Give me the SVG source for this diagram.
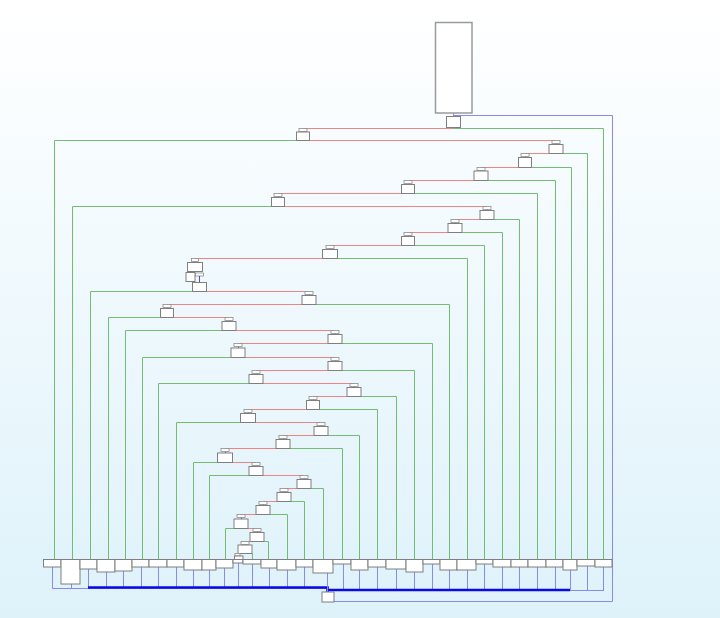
<svg xmlns="http://www.w3.org/2000/svg" width="720" height="618" viewBox="0 0 720 618">
<defs>
<linearGradient id="bg" x1="0" y1="0" x2="0" y2="1">
<stop offset="0" stop-color="#ffffff"/>
<stop offset="1" stop-color="#def2fa"/>
</linearGradient>
<style>
.box{fill:#fff;stroke:#7f7f7f;stroke-width:1}
.big{fill:#fff;stroke:#9a9a9a;stroke-width:1.5}
.pin{fill:#fff;stroke:#8c8c8c;stroke-width:0.8}
.tick{fill:none;stroke:#4a4ae0;stroke-width:1}
.red{fill:none;stroke:#ec8585;stroke-width:1}
.grn{fill:none;stroke:#74bb74;stroke-width:1}
.blu{fill:none;stroke:#8a8aee;stroke-width:1}
.thk{fill:none;stroke:#0a0ae6;stroke-width:2.6}
</style>
</defs>
<rect x="0" y="0" width="720" height="618" fill="url(#bg)"/>
<g id="connectors">
<path class="blu" d="M453.5,113 V116 M453.5,115.5 H612.5 V601.5 H334"/>
<path class="grn" d="M453,128.5 H603.5 V559 M303,140.5 H54.5 V559 M556,153.5 H587.5 V559 M525,167.5 H571.5 V559 M481,180.5 H555.5 V559 M408,193.5 H537.5 V559 M278,206.5 H72.5 V559 M487,219.5 H519.5 V559 M455,232.5 H502.5 V559 M408,245.5 H484.5 V559 M330,258.5 H467.5 V559 M199,291.5 H90.5 V559 M309,304.5 H449.5 V559 M167,317.5 H108.5 V559 M229,330.5 H125.5 V559 M335,343.5 H432.5 V559 M238,357.5 H142.5 V559 M335,370.5 H414.5 V559 M256,383.5 H158.5 V559 M354,396.5 H396.5 V559 M313,409.5 H377.5 V559 M248,422.5 H176.5 V559 M321,435.5 H359.5 V559 M283,448.5 H342.5 V559 M225,462.5 H193.5 V559 M256,475.5 H209.5 V559 M304,488.5 H323.5 V559 M284,501.5 H304.5 V559 M263,514.5 H287.5 V559 M241,528.5 H225.5 V559 M257,541.5 H268.5 V559 M245,553.5 H252.5 V559"/>
<path class="red" d="M453,128.5 H303 M303,140.5 H556 M556,153.5 H525 M525,167.5 H481 M481,180.5 H408 M408,193.5 H278 M278,206.5 H487 M487,219.5 H455 M455,232.5 H408 M408,245.5 H330 M330,258.5 H195 M199,291.5 H309 M309,304.5 H167 M167,317.5 H229 M229,330.5 H335 M335,343.5 H238 M238,357.5 H335 M335,370.5 H256 M256,383.5 H354 M354,396.5 H313 M313,409.5 H248 M248,422.5 H321 M321,435.5 H283 M283,448.5 H225 M225,462.5 H256 M256,475.5 H304 M304,488.5 H284 M284,501.5 H263 M263,514.5 H241 M241,528.5 H257 M257,541.5 H245 M245,553.5 H238"/>
<path class="tick" d="M303.5,130.5 V133 M556.5,142.5 V145 M525.5,155.5 V158 M481.5,169.5 V172 M408.5,182.5 V185 M278.5,195.5 V198 M487.5,208.5 V211 M455.5,221.5 V224 M408.5,234.5 V237 M330.5,247.5 V250 M195.5,260.5 V263 M309.5,293.5 V296 M167.5,306.5 V309 M229.5,319.5 V322 M335.5,332.5 V335 M238.5,345.5 V348 M335.5,359.5 V362 M256.5,372.5 V375 M354.5,385.5 V388 M313.5,398.5 V401 M248.5,411.5 V414 M321.5,424.5 V427 M283.5,437.5 V440 M225.5,450.5 V453 M256.5,464.5 V467 M304.5,477.5 V480 M284.5,490.5 V493 M263.5,503.5 V506 M241.5,516.5 V519 M257.5,530.5 V533 M245.5,543.5 V545 M238.5,555 V556.5"/>
<path class="blu" d="M52.5,567 V588.5 M71.5,584 V588.5 M88.5,569 V588.5 M106.5,572 V588.5 M123.5,571 V588.5 M141.5,567 V588.5 M158.5,567 V588.5 M176.5,567 V588.5 M193.5,570 V588.5 M209.5,570 V588.5 M224.5,568 V588.5 M238.5,563 V588.5 M252.5,564 V588.5 M269.5,568 V588.5 M287.5,570 V588.5 M304.5,567 V588.5 M52.5,588.5 H327.5 M343.5,564 V590.5 M359.5,570 V590.5 M377.5,567 V590.5 M396.5,569 V590.5 M414.5,572 V590.5 M432.5,564 V590.5 M449.5,570 V590.5 M467.5,570 V590.5 M484.5,564 V590.5 M502.5,567 V590.5 M519.5,567 V590.5 M537.5,567 V590.5 M555.5,567 V590.5 M570.5,570 V590.5 M587.5,566 V591 M603.5,567 V591 M327.5,590.5 H603.5"/>
<path class="thk" d="M88,587.5 H327.5 V592 M327.5,590 H570"/>
<path class="blu" d="M327.5,573 V592"/>
</g>
<g id="start"><rect class="big" x="435.5" y="22.5" width="36.5" height="90.5"/></g>
<g id="n1"><rect class="box" x="446.5" y="116.5" width="14" height="11"/></g>
<g id="n2"><rect class="pin" x="299" y="128.5" width="8" height="3"/><rect class="box" x="296.5" y="132" width="13" height="8.5"/></g>
<g id="n3"><rect class="pin" x="552" y="140.5" width="8" height="3"/><rect class="box" x="549" y="144.5" width="14" height="9"/></g>
<g id="n4"><rect class="pin" x="521" y="153.5" width="8" height="3"/><rect class="box" x="518.5" y="157.5" width="13" height="10"/></g>
<g id="n5"><rect class="pin" x="477" y="167.5" width="8" height="3"/><rect class="box" x="474" y="171" width="14" height="9.5"/></g>
<g id="n6"><rect class="pin" x="404" y="180.5" width="8" height="3"/><rect class="box" x="401.5" y="184.5" width="13" height="9"/></g>
<g id="n7"><rect class="pin" x="274" y="193.5" width="8" height="3"/><rect class="box" x="271.5" y="197.5" width="13" height="9"/></g>
<g id="n8"><rect class="pin" x="483" y="206.5" width="8" height="3"/><rect class="box" x="480" y="210.5" width="14" height="9"/></g>
<g id="n9"><rect class="pin" x="451" y="219.5" width="8" height="3"/><rect class="box" x="448" y="223.5" width="14" height="9"/></g>
<g id="n10"><rect class="pin" x="404" y="232.5" width="8" height="3"/><rect class="box" x="401.5" y="236.5" width="13" height="9"/></g>
<g id="n11"><rect class="pin" x="326" y="245.5" width="8" height="3"/><rect class="box" x="322.5" y="249.5" width="15" height="9"/></g>
<g id="n12"><rect class="pin" x="191.5" y="258.5" width="7" height="3"/><rect class="box" x="187.5" y="262.5" width="15" height="9"/><rect class="box" x="186" y="272.5" width="9" height="9"/><rect class="pin" x="195.5" y="273" width="8" height="3"/><line class="tick" x1="199.5" y1="276" x2="199.5" y2="282.5"/><rect class="box" x="192.5" y="282.5" width="14" height="9"/></g>
<g id="n13"><rect class="pin" x="305" y="291.5" width="8" height="3"/><rect class="box" x="302" y="295.5" width="14" height="9"/></g>
<g id="n14"><rect class="pin" x="163" y="304.5" width="8" height="3"/><rect class="box" x="160.5" y="308.5" width="13" height="9"/></g>
<g id="n15"><rect class="pin" x="225" y="317.5" width="8" height="3"/><rect class="box" x="222" y="321.5" width="14" height="9"/></g>
<g id="n16"><rect class="pin" x="331" y="330.5" width="8" height="3"/><rect class="box" x="328" y="334.5" width="14" height="9"/></g>
<g id="n17"><rect class="pin" x="234" y="343.5" width="8" height="3"/><rect class="box" x="231" y="348" width="14" height="9.5"/></g>
<g id="n18"><rect class="pin" x="331" y="357.5" width="8" height="3"/><rect class="box" x="328" y="361.5" width="14" height="9"/></g>
<g id="n19"><rect class="pin" x="252" y="370.5" width="8" height="3"/><rect class="box" x="249" y="374.5" width="14" height="9"/></g>
<g id="n20"><rect class="pin" x="350" y="383.5" width="8" height="3"/><rect class="box" x="347" y="387.5" width="14" height="9"/></g>
<g id="n21"><rect class="pin" x="309" y="396.5" width="8" height="3"/><rect class="box" x="306.5" y="400.5" width="13" height="9"/></g>
<g id="n22"><rect class="pin" x="244" y="409.5" width="8" height="3"/><rect class="box" x="240.5" y="413.5" width="15" height="9"/></g>
<g id="n23"><rect class="pin" x="317" y="422.5" width="8" height="3"/><rect class="box" x="314" y="426.5" width="14" height="9"/></g>
<g id="n24"><rect class="pin" x="279" y="435.5" width="8" height="3"/><rect class="box" x="276" y="439.5" width="14" height="9"/></g>
<g id="n25"><rect class="pin" x="221" y="448.5" width="8" height="3"/><rect class="box" x="217.5" y="453" width="15" height="9.5"/></g>
<g id="n26"><rect class="pin" x="252" y="462.5" width="8" height="3"/><rect class="box" x="249" y="466.5" width="14" height="9"/></g>
<g id="n27"><rect class="pin" x="300" y="475.5" width="8" height="3"/><rect class="box" x="297" y="479.5" width="14" height="9"/></g>
<g id="n28"><rect class="pin" x="280" y="488.5" width="8" height="3"/><rect class="box" x="277" y="492.5" width="14" height="9"/></g>
<g id="n29"><rect class="pin" x="259" y="501.5" width="8" height="3"/><rect class="box" x="256" y="505.5" width="14" height="9"/></g>
<g id="n30"><rect class="pin" x="237" y="514.5" width="8" height="3"/><rect class="box" x="234" y="519" width="14" height="9.5"/></g>
<g id="n31"><rect class="pin" x="253" y="528.5" width="8" height="3"/><rect class="box" x="250" y="532.5" width="14" height="9"/></g>
<g id="n32"><rect class="pin" x="241" y="541.5" width="8" height="3"/><rect class="box" x="238" y="545" width="14" height="8.5"/></g>
<g id="n33"><rect class="pin" x="235" y="553.5" width="5" height="2.5"/><rect class="box" x="234.5" y="556" width="8.5" height="3.5"/></g>
<g id="bottom-row">
<rect class="box" x="43.5" y="559.5" width="17.5" height="7.5"/>
<rect class="box" x="61" y="559.5" width="19" height="24.5"/>
<rect class="box" x="80" y="559.5" width="17" height="9.5"/>
<rect class="box" x="97" y="559.5" width="18" height="12.5"/>
<rect class="box" x="115" y="559.5" width="17" height="11.5"/>
<rect class="box" x="132" y="559.5" width="17" height="7.5"/>
<rect class="box" x="149" y="559.5" width="18" height="7.5"/>
<rect class="box" x="167" y="559.5" width="17" height="7.5"/>
<rect class="box" x="184" y="559.5" width="18" height="10.5"/>
<rect class="box" x="202" y="559.5" width="14" height="10.5"/>
<rect class="box" x="216" y="559.5" width="17" height="8.5"/>
<rect class="box" x="233" y="559.5" width="10" height="3.5"/>
<rect class="box" x="243" y="559.5" width="18" height="4.5"/>
<rect class="box" x="261" y="559.5" width="16" height="8.5"/>
<rect class="box" x="277" y="559.5" width="19" height="10.5"/>
<rect class="box" x="296" y="559.5" width="17" height="7.5"/>
<rect class="box" x="313" y="559.5" width="20" height="13.5"/>
<rect class="box" x="333" y="559.5" width="18" height="4.5"/>
<rect class="box" x="351" y="559.5" width="17" height="10.5"/>
<rect class="box" x="368" y="559.5" width="18" height="7.5"/>
<rect class="box" x="386" y="559.5" width="20" height="9.5"/>
<rect class="box" x="406" y="559.5" width="17" height="12.5"/>
<rect class="box" x="423" y="559.5" width="17" height="4.5"/>
<rect class="box" x="440" y="559.5" width="17" height="10.5"/>
<rect class="box" x="457" y="559.5" width="19" height="10.5"/>
<rect class="box" x="476" y="559.5" width="17" height="4.5"/>
<rect class="box" x="493" y="559.5" width="18" height="7.5"/>
<rect class="box" x="511" y="559.5" width="17" height="7.5"/>
<rect class="box" x="528" y="559.5" width="18" height="7.5"/>
<rect class="box" x="546" y="559.5" width="17" height="7.5"/>
<rect class="box" x="563" y="559.5" width="14" height="10.5"/>
<rect class="box" x="577" y="559.5" width="18" height="6.5"/>
<rect class="box" x="595" y="559.5" width="17" height="7.5"/>
</g>
<g id="end"><rect class="box" x="322" y="592" width="12" height="10"/></g>
</svg>
